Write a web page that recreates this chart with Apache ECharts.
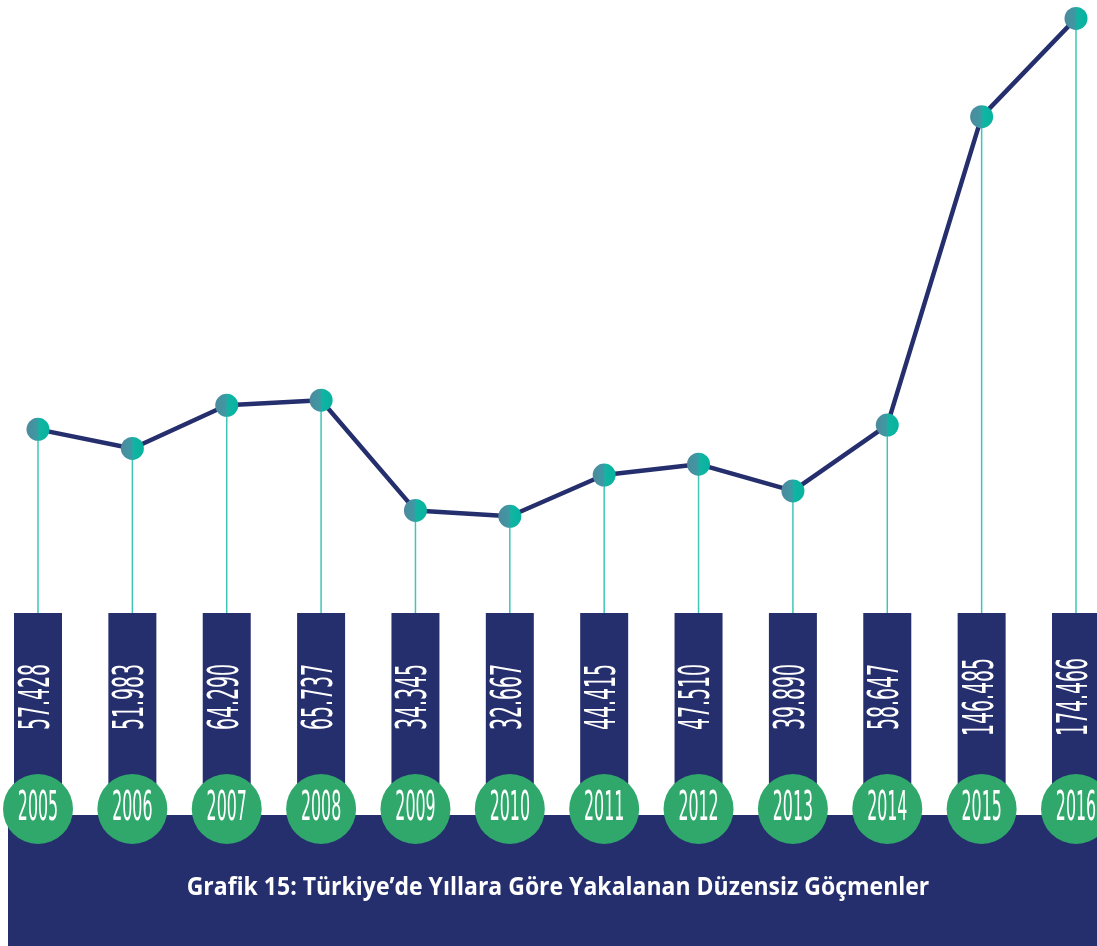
<!DOCTYPE html>
<html>
<head>
<meta charset="utf-8">
<script src="https://cdn.jsdelivr.net/npm/echarts@6/dist/echarts.min.js"></script>
<style>
  html, body { margin: 0; padding: 0; background: #fff; }
  #chart { width: 1097px; height: 946px; }
</style>
</head>
<body>
<div id="chart"></div>
<script>
// veriler
const years = ['2005', '2006', '2007', '2008', '2009', '2010', '2011', '2012', '2013', '2014', '2015', '2016']
const migrants = [57428, 51983, 64290, 65737, 34345, 32667, 44415, 47510, 39890, 58647, 146485, 174466]
const titleText = 'Grafik 15: Türkiye’de Yıllara Göre Yakalanan Düzensiz Göçmenler'

const NAVY = '#262f6d'
const GREEN = '#30a86b'
const TEAL = '#3fc6b6'
const NARROW = '"Liberation Sans Narrow", "DejaVu Sans Condensed", sans-serif'

// 57428 -> "57.428"
const fmt = v => Math.floor(v / 1000) + '.' + String(v % 1000).padStart(3, '0')

const chart = echarts.init(document.getElementById('chart'))

const pointColor = new echarts.graphic.LinearGradient(0, 0, 1, 0, [
  { offset: 0, color: '#4c8a9c' },
  { offset: 0.45, color: '#3f98a4' },
  { offset: 0.55, color: '#12b4a2' },
  { offset: 1, color: '#05b3a0' }
])

chart.setOption({
  animation: false,
  grid: { left: 38, right: 21, top: 6, bottom: 315 },
  xAxis: {
    type: 'category',
    data: years,
    boundaryGap: false,
    show: false
  },
  yAxis: {
    type: 'value',
    min: 0,
    max: 178000,
    show: false
  },
  graphic: [
    {
      type: 'rect',
      z: 0,
      shape: { x: 8, y: 815, width: 1089, height: 131 },
      style: { fill: NAVY }
    },
    {
      type: 'text',
      z: 10,
      x: 558,
      y: 888,
      scaleX: 0.92,
      style: {
        text: titleText,
        fill: '#fff',
        font: 'bold 25px "Open Sans", sans-serif',
        align: 'center',
        verticalAlign: 'middle'
      }
    }
  ],
  series: [
    {
      // dikey ince çizgiler
      type: 'bar',
      data: migrants,
      barWidth: 1.5,
      z: 1,
      itemStyle: { color: TEAL }
    },
    {
      // kutular, değer yazıları ve yıl daireleri
      type: 'custom',
      z: 3,
      data: years.map((y, i) => [i, migrants[i]]),
      renderItem (params, api) {
        const i = api.value(0)
        const x = api.coord([i, 0])[0]
        return {
          type: 'group',
          children: [
            {
              type: 'rect',
              shape: { x: x - 24, y: 613, width: 48, height: 190 },
              style: { fill: NAVY }
            },
            {
              type: 'text',
              x: x,
              y: 697,
              rotation: Math.PI / 2,
              scaleX: 0.5,
              style: {
                text: fmt(api.value(1)),
                fill: '#fff',
                font: '42px ' + NARROW,
                align: 'center',
                verticalAlign: 'middle'
              }
            },
            {
              type: 'circle',
              shape: { cx: x, cy: 809, r: 35 },
              style: { fill: GREEN }
            },
            {
              type: 'text',
              x: x,
              y: 810,
              scaleX: 0.44,
              style: {
                text: years[i],
                fill: '#fff',
                font: '40px ' + NARROW,
                align: 'center',
                verticalAlign: 'middle'
              }
            }
          ]
        }
      }
    },
    {
      type: 'line',
      data: migrants,
      z: 4,
      symbol: 'circle',
      symbolSize: 23,
      lineStyle: { color: NAVY, width: 4.5 },
      itemStyle: { color: pointColor }
    }
  ]
})
</script>
</body>
</html>
